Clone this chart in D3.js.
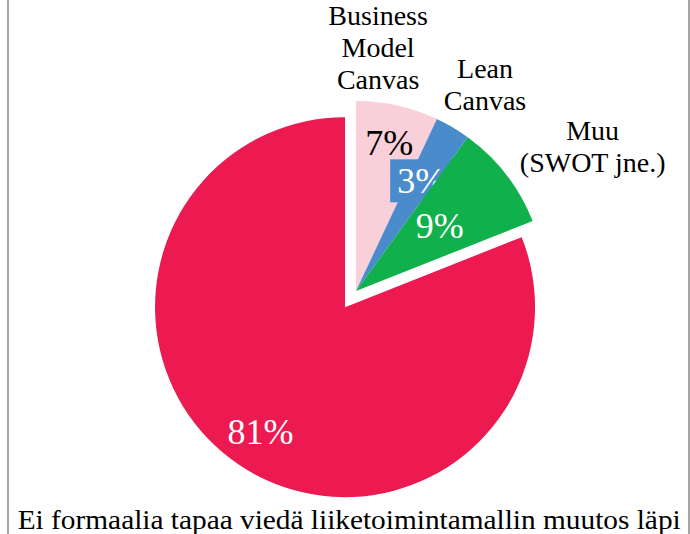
<!DOCTYPE html>
<html>
<head>
<meta charset="utf-8">
<script src="https://cdn.jsdelivr.net/npm/d3@7"></script>
<style>
  html, body { margin: 0; padding: 0; background: #fff; }
  svg { display: block; }
</style>
</head>
<body>
<svg id="chart" width="690" height="534"></svg>
<script>
// data
const categories = [
  'Business Model Canvas',
  'Lean Canvas',
  'Muu (SWOT jne.)',
  'Ei formaalia tapaa viedä liiketoimintamallin muutos läpi'
];
const categoryLines = [
  ['Business', 'Model', 'Canvas'],
  ['Lean', 'Canvas'],
  ['Muu', '(SWOT jne.)'],
  ['Ei formaalia tapaa viedä liiketoimintamallin muutos läpi']
];
const values = [7, 3, 9, 81];
const colors = ['#f9cfda', '#4a8ccb', '#10b04c', '#ed1951'];

// layout
const HEIGHT = 534;
const CX = 356;
const CY = 291;
const RADIUS = 190;
const EXPLODE = [0, 0, 0, 19.5];
const PCT_RADIUS = [152, 128, 106, 170];
const PCT_COLOR = ['#000', '#fff', '#fff', '#fff'];
const CAT_ANGLE = [5.2, 32, 58.7, 181.7];
const CAT_RADIUS = [244, 243.5, 277, 229];
const LINE_H = 32;
const FONT = "'Liberation Serif', 'Times New Roman', serif";

const svg = d3.select('#chart');

// frame, cut off at top and bottom
svg.append('rect')
  .attr('x', 8)
  .attr('y', -10)
  .attr('width', 681)
  .attr('height', HEIGHT + 20)
  .attr('fill', 'none')
  .attr('stroke', '#a6a6a6')
  .attr('stroke-width', 2);

const pie = d3.pie().sort(null).value(d => d);
const arcs = pie(values);
const arc = d3.arc().innerRadius(0).outerRadius(RADIUS);

const polar = (angleRad, r) => [Math.sin(angleRad) * r, -Math.cos(angleRad) * r];

const slices = svg.selectAll('.slice')
  .data(arcs)
  .enter()
  .append('g')
  .classed('slice', true)
  .attr('transform', (d, i) => {
    const mid = (d.startAngle + d.endAngle) / 2;
    const [dx, dy] = polar(mid, EXPLODE[i]);
    return 'translate(' + (CX + dx) + ',' + (CY + dy) + ')';
  });

slices.append('path')
  .attr('d', arc)
  .style('fill', (d, i) => colors[i]);

// percentage labels
const pctG = slices.append('g')
  .attr('transform', (d, i) => {
    const mid = (d.startAngle + d.endAngle) / 2;
    const [x, y] = polar(mid, PCT_RADIUS[i] - EXPLODE[i]);
    return 'translate(' + x + ',' + y + ')';
  });

// the small blue label gets a box in its slice colour
pctG.filter((d, i) => i === 1)
  .append('rect')
  .attr('x', -31)
  .attr('y', -21.5)
  .attr('width', 62)
  .attr('height', 43)
  .style('fill', colors[1]);

pctG.append('text')
  .attr('text-anchor', 'middle')
  .attr('y', 12)
  .style('font-family', FONT)
  .style('font-size', '36px')
  .style('fill', (d, i) => PCT_COLOR[i])
  .text(d => Math.round(d.value / d3.sum(values) * 100) + '%');

// category labels
categories.forEach((c, i) => {
  const [x, y] = polar(CAT_ANGLE[i] * Math.PI / 180, CAT_RADIUS[i]);
  const lines = categoryLines[i];
  const t = svg.append('text')
    .attr('text-anchor', 'middle')
    .style('font-family', FONT)
    .style('font-size', '28px')
    .style('fill', '#000');
  lines.forEach((line, j) => {
    t.append('tspan')
      .attr('x', CX + x)
      .attr('y', CY + y + (j - (lines.length - 1) / 2) * LINE_H + 9)
      .text(line);
  });
  if (i === 3) {
    t.select('tspan')
      .attr('textLength', 663)
      .attr('lengthAdjust', 'spacingAndGlyphs');
  }
});
</script>
</body>
</html>
